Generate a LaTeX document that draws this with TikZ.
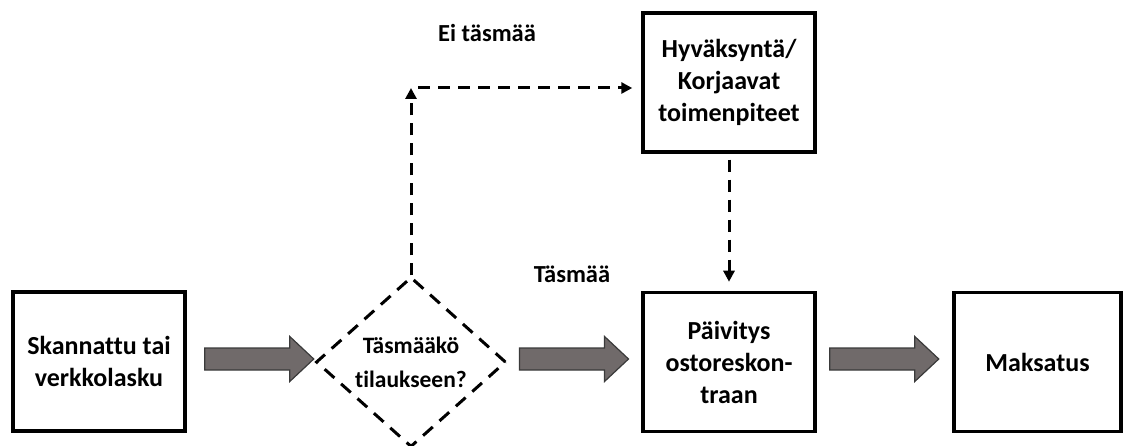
\documentclass[tikz,border=0pt]{standalone}
\usepackage{fontspec}
\setmainfont{Carlito}[Ligatures=NoCommon]
\usetikzlibrary{arrows.meta,shapes.geometric,calc}
\definecolor{fatfill}{HTML}{706A6A}
\definecolor{fatline}{HTML}{3A3A3A}
\tikzset{
  box/.style={draw=black, line width=3.5pt, minimum width=172pt, minimum height=139pt, inner sep=0pt, align=center, font=\bfseries\fontsize{26}{32}\selectfont},
  decision/.style={diamond, draw=black, line width=3pt, dash pattern=on 13pt off 9pt, minimum width=190pt, minimum height=170pt, inner sep=0pt, align=center, font=\bfseries\fontsize{23.5}{34}\selectfont},
  lbl/.style={font=\bfseries\fontsize{24.5}{28}\selectfont, inner sep=0pt},
  dasharrow/.style={line width=3pt, dash pattern=on 12pt off 8pt, -{Triangle[length=11pt,width=11pt]}},
  fat/.style={fill=fatfill, draw=fatline, line width=1.2pt, line join=miter}
}
\begin{document}
\begin{tikzpicture}[x=1pt,y=-1pt]
\useasboundingbox (0,0) rectangle (1124,446);
\node[box] (scan) at (99,361.5) {Skannattu tai\\verkkolasku};
\node[decision] (dec) at (411,362) {Täsmääkö\\tilaukseen?};
\node[box] (upd) at (729,362) {Päivitys\\ostoreskon-\\traan};
\node[box, minimum width=167pt] (pay) at (1037.5,362) {Maksatus};
\node[box] (fix) at (729,82.5) {Hyväksyntä/\\Korjaavat\\toimenpiteet};
\node[lbl] (nomatch) at (487,33) {Ei täsmää};
\node[lbl] (match) at (572,274) {Täsmää};
% fat arrows
\coordinate (a1) at ($(scan.east)+(18,-2.5)$);
\coordinate (a2) at ($(dec.east)+(12,-3)$);
\coordinate (a3) at ($(upd.east)+(13,-3)$);
\foreach \s in {a1,a2,a3}{
  \draw[fat] (\s) ++(0,-11) -- ++(85,0) -- ++(0,-11.5) -- ++(24,22.5) -- ++(-24,22.5) -- ++(0,-11.5) -- ++(-85,0) -- cycle;
}
% dashed connectors
\coordinate (corner) at (dec.north |- 0,88);
\draw[dasharrow] (dec.north) -- (corner);
\draw[dasharrow] ([xshift=7pt]corner) -- ([xshift=-9pt]fix.west |- corner);
\draw[dasharrow, shorten <=6pt, shorten >=9pt] (fix.south) -- (upd.north);
\end{tikzpicture}
\end{document}
